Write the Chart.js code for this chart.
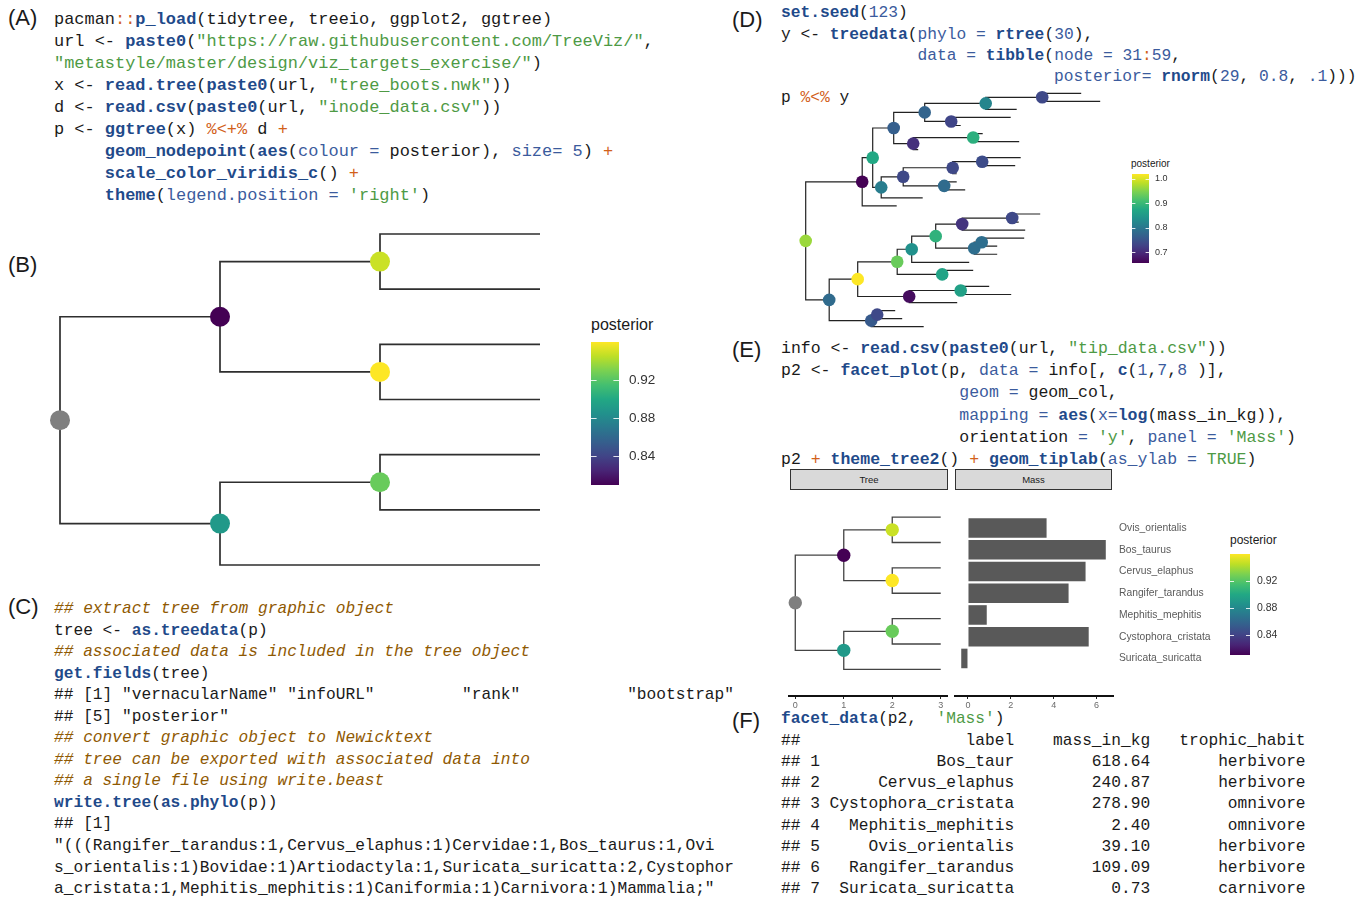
<!DOCTYPE html>
<html>
<head>
<meta charset="utf-8">
<script src="https://cdn.jsdelivr.net/npm/chart.js@4.4.0/dist/chart.umd.min.js"></script>
<style>
  html, body { margin:0; padding:0; background:#fff; }
  #page { position:relative; width:1367px; height:898px; overflow:hidden; background:#fff; }
  pre.code { position:absolute; margin:0; font-family:'Liberation Mono', 'DejaVu Sans Mono', monospace; font-size:16px; color:#1a1a1a; white-space:pre; }
  .f { color:#1f4a8a; font-weight:bold; }
  .a { color:#3b5b9d; }
  .n { color:#3b5b9d; }
  .s { color:#4e9a45; }
  .o { color:#d2601a; }
  .c { color:#8f5902; font-style:italic; }
  .tag { position:absolute; font-family:'Liberation Sans', Arial, sans-serif; font-size:22px; line-height:22px; color:#1a1a1a; }
  .lab { position:absolute; font-family:'Liberation Sans', Arial, sans-serif; color:#1a1a1a; white-space:nowrap; }
  .strip { position:absolute; background:#d9d9d9; border:1px solid #333; box-sizing:border-box; font-family:'Liberation Sans', Arial, sans-serif; font-size:9.5px; line-height:19px; color:#1a1a1a; text-align:center; }
  canvas { position:absolute; }
</style>
</head>
<body>
<div id="page">

<div class="tag" style="left:8px;top:7px">(A)</div>
<div class="tag" style="left:8px;top:254px">(B)</div>
<div class="tag" style="left:8px;top:596px">(C)</div>
<div class="tag" style="left:732px;top:9px">(D)</div>
<div class="tag" style="left:732px;top:339px">(E)</div>
<div class="tag" style="left:732px;top:710px">(F)</div>

<pre class="code" style="left:54px;top:8.5px;line-height:22.1px;font-size:16.95px">
pacman<span class="o">::</span><span class="f">p_load</span>(tidytree, treeio, ggplot2, ggtree)
url &lt;- <span class="f">paste0</span>(<span class="s">"https://raw.githubusercontent.com/TreeViz/"</span>,
<span class="s">"metastyle/master/design/viz_targets_exercise/"</span>)
x &lt;- <span class="f">read.tree</span>(<span class="f">paste0</span>(url, <span class="s">"tree_boots.nwk"</span>))
d &lt;- <span class="f">read.csv</span>(<span class="f">paste0</span>(url, <span class="s">"inode_data.csv"</span>))
p &lt;- <span class="f">ggtree</span>(x) <span class="o">%&lt;+%</span> d <span class="o">+</span>
     <span class="f">geom_nodepoint</span>(<span class="f">aes</span>(<span class="a">colour</span> <span class="a">=</span> posterior), <span class="a">size</span><span class="a">=</span> <span class="n">5</span>) <span class="o">+</span>
     <span class="f">scale_color_viridis_c</span>() <span class="o">+</span>
     <span class="f">theme</span>(<span class="a">legend.position</span> <span class="a">=</span> <span class="s">'right'</span>)</pre>

<pre class="code" style="left:54px;top:599px;line-height:21.54px;font-size:16.2px">
<span class="c">## extract tree from graphic object</span>
tree &lt;- <span class="f">as.treedata</span>(p)
<span class="c">## associated data is included in the tree object</span>
<span class="f">get.fields</span>(tree)
## [1] "vernacularName" "infoURL"         "rank"           "bootstrap"
## [5] "posterior"
<span class="c">## convert graphic object to Newicktext</span>
<span class="c">## tree can be exported with associated data into</span>
<span class="c">## a single file using write.beast</span>
<span class="f">write.tree</span>(<span class="f">as.phylo</span>(p))
## [1]
"(((Rangifer_tarandus:1,Cervus_elaphus:1)Cervidae:1,Bos_taurus:1,Ovi
s_orientalis:1)Bovidae:1)Artiodactyla:1,Suricata_suricatta:2,Cystophor
a_cristata:1,Mephitis_mephitis:1)Caniformia:1)Carnivora:1)Mammalia;"</pre>

<pre class="code" style="left:781px;top:2.4px;line-height:21.2px;font-size:16.25px">
<span class="f">set.seed</span>(<span class="n">123</span>)
y &lt;- <span class="f">treedata</span>(<span class="a">phylo</span> <span class="a">=</span> <span class="f">rtree</span>(<span class="n">30</span>),
              <span class="a">data</span> <span class="a">=</span> <span class="f">tibble</span>(<span class="a">node</span> <span class="a">=</span> <span class="n">31</span><span class="o">:</span><span class="n">59</span>,
                            <span class="a">posterior</span><span class="a">=</span> <span class="f">rnorm</span>(<span class="n">29</span>, <span class="n">0.8</span>, <span class="n">.1</span>)))
p <span class="o">%&lt;%</span> y</pre>

<pre class="code" style="left:781px;top:338px;line-height:22.2px;font-size:16.5px">
info &lt;- <span class="f">read.csv</span>(<span class="f">paste0</span>(url, <span class="s">"tip_data.csv"</span>))
p2 &lt;- <span class="f">facet_plot</span>(p, <span class="a">data</span> <span class="a">=</span> info[, <span class="f">c</span>(<span class="n">1</span>,<span class="n">7</span>,<span class="n">8</span> )],
                  <span class="a">geom</span> <span class="a">=</span> geom_col,
                  <span class="a">mapping</span> <span class="a">=</span> <span class="f">aes</span>(<span class="a">x</span><span class="a">=</span><span class="f">log</span>(mass_in_kg)),
                  orientation <span class="a">=</span> <span class="s">'y'</span>, <span class="a">panel</span> <span class="a">=</span> <span class="s">'Mass'</span>)
p2 <span class="o">+</span> <span class="f">theme_tree2</span>() <span class="o">+</span> <span class="f">geom_tiplab</span>(<span class="a">as_ylab</span> <span class="a">=</span> <span class="s">TRUE</span>)</pre>

<pre class="code" id="codeF" style="left:781px;top:709.4px;line-height:21.25px;font-size:16.2px"></pre>

<div class="lab" style="left:591px;top:316px;font-size:16px;line-height:18px">posterior</div>
<div class="lab" style="left:1131px;top:158px;font-size:10px;line-height:12px">posterior</div>
<div class="lab" style="left:1230px;top:533px;font-size:12px;line-height:14px">posterior</div>

<div class="strip" style="left:790px;top:469px;width:158px;height:21px">Tree</div>
<div class="strip" style="left:955px;top:469px;width:157px;height:21px">Mass</div>

<canvas id="treeB" width="520" height="370" style="left:40px;top:215px"></canvas>
<canvas id="barB" width="78" height="143" style="left:591px;top:342px"></canvas>
<canvas id="treeD" width="335" height="255" style="left:780px;top:80px"></canvas>
<canvas id="barD" width="47" height="89" style="left:1132px;top:174px"></canvas>
<canvas id="treeE" width="160" height="230" style="left:788px;top:490px"></canvas>
<canvas id="massE" width="271" height="230" style="left:954px;top:490px"></canvas>
<canvas id="barE" width="55" height="101" style="left:1230px;top:554px"></canvas>
</div>

<script>
// mammal tree (panels B, C, E): nodes 0-6 are tips, 7 is the root
const treeNodes = ['Ovis_orientalis', 'Bos_taurus', 'Cervus_elaphus', 'Rangifer_tarandus',
    'Mephitis_mephitis', 'Cystophora_cristata', 'Suricata_suricatta',
    'Mammalia', 'Artiodactyla', 'Bovidae', 'Cervidae', 'Carnivora', 'Caniformia'];
const treeParent = [9, 9, 10, 10, 12, 12, 11, -1, 7, 8, 8, 7, 11];
const treeBranch = [1, 1, 1, 1, 1, 1, 2, 0, 1, 1, 1, 1, 1];
const treeTipY = [7, 6, 5, 4, 3, 2, 1];
const treePosterior = [null, null, null, null, null, null, null, null, 0.81, 0.948, 0.96, 0.89, 0.925];
const massKg = [39.10, 618.64, 240.87, 109.09, 2.40, 278.90, 0.73];
const postTicks = [0.84, 0.88, 0.92];
const eTreeTicks = [0, 1, 2, 3];
const eMassTicks = [0, 2, 4, 6];

// random tree (panel D): 30 tips (0-29, top to bottom), internal nodes 30-58, root = 30
const dTipCount = 30;
const dParent = [36, 36, 35, 37, 37, 39, 39, 38, 43, 43, 42, 44, 44, 40, 31,
    51, 51, 50, 53, 53, 52, 48, 54, 54, 56, 56, 55, 58, 58, 57,
    -1, 30, 31, 32, 33, 34, 35, 34, 33, 38, 32, 40, 41, 42, 41,
    30, 45, 46, 47, 48, 49, 50, 49, 52, 47, 46, 55, 45, 57];
const dX = [5.51, 5.89, 4.22, 4.10, 3.10, 3.54, 4.27, 2.25, 4.30, 4.19, 3.02, 3.02, 3.19, 2.34, 1.82,
    4.69, 4.26, 4.39, 4.37, 3.83, 3.83, 3.27, 3.35, 2.82, 3.67, 4.11, 3.03, 1.79, 1.93, 2.36,
    0, 1.13, 1.34, 1.76, 2.38, 3.60, 4.73, 2.91, 2.15, 3.35, 1.51, 1.95, 2.94, 3.53, 2.77,
    0.47, 1.04, 1.83, 2.12, 2.60, 3.13, 4.13, 3.37, 3.52, 2.73, 2.07, 3.10, 1.31, 1.43];
const dPosterior = [0.965, 0.656, 0.874, 0.765, 0.772, 0.820, 0.736, 0.732, 0.707, 0.885,
    0.809, 0.736, 0.736, 0.740, 0.783, 0.783, 1.020, 0.936, 0.838, 0.889,
    0.711, 0.736, 0.787, 0.787, 0.867, 0.667, 0.863, 0.758, 0.736];
const dTicks = [0.7, 0.8, 0.9, 1.0];

// facet_data table (panel F)
const tblLabel = ['Bos_taur', 'Cervus_elaphus', 'Cystophora_cristata', 'Mephitis_mephitis',
    'Ovis_orientalis', 'Rangifer_tarandus', 'Suricata_suricatta'];
const tblMass = ['618.64', '240.87', '278.90', '2.40', '39.10', '109.09', '0.73'];
const tblHabit = ['herbivore', 'herbivore', 'omnivore', 'omnivore', 'herbivore', 'herbivore', 'carnivore'];

const viridisStops = ['#440154', '#482475', '#414487', '#355f8d', '#2a788e', '#21918c',
    '#22a884', '#44bf70', '#7ad151', '#bddf26', '#fde725'];

Chart.defaults.font.family = "'Liberation Sans', Arial, sans-serif";

function init(){
    writeTable();

    // panel B
    let bX = layoutX(treeParent, treeBranch);
    let bY = layoutY(treeParent, treeTipY);
    let bPost = treePosterior;
    drawTree('treeB', bX, bY, treeParent, bPost, treeTipY.length,
        {line: '#2e2e2e', lw: 1.7, r: 10}, {min: -0.125, max: 3.125}, {min: 0.6375, max: 7.344}, null);
    colorbar('barB', range(bPost), postTicks, {axisW: 50, pad: 10, font: 13.5, dec: 2});

    // panel D
    let dTipY = dParent.slice(0, dTipCount).map((p, i) => dTipCount - i);
    let dY = layoutY(dParent, dTipY);
    let dPost = dParent.map((p, i) => i < dTipCount ? null : dPosterior[i - dTipCount]);
    drawTree('treeD', dX, dY, dParent, dPost, dTipCount,
        {line: '#222', lw: 1.2, r: 6.3}, {min: -0.514, max: 6.186}, {min: -0.031, max: 31.65}, null);
    colorbar('barD', range(dPost), dTicks, {axisW: 30, pad: 6, font: 9, dec: 1});

    // panel E
    drawTree('treeE', bX, bY, treeParent, bPost, treeTipY.length,
        {line: '#444', lw: 1.3, r: 6.7}, {min: -0.15, max: 3.15}, {min: -0.05, max: 8.07}, eTreeTicks);
    drawMass();
    colorbar('barE', range(bPost), postTicks, {axisW: 35, pad: 7, font: 10.5, dec: 2});
}

function writeTable(){
    let lines = ['<span class="f">facet_data</span>(p2,  <span class="s">\'Mass\'</span>)'];
    lines.push('##'.padEnd(4) + 'label'.padStart(20) + 'mass_in_kg'.padStart(14) + 'trophic_habit'.padStart(16));
    tblLabel.forEach((l, i) => {
        lines.push(('## ' + (i + 1)).padEnd(4) + l.padStart(20) + tblMass[i].padStart(14) + tblHabit[i].padStart(16));
    });
    document.getElementById('codeF').innerHTML = lines.join('\n');
}

function range(post){
    let v = post.filter(p => p != null);
    return [Math.min(...v), Math.max(...v)];
}

function viridis(t){
    t = Math.min(1, Math.max(0, t)) * (viridisStops.length - 1);
    let i = Math.min(Math.floor(t), viridisStops.length - 2);
    let f = t - i;
    let a = hexRgb(viridisStops[i]), b = hexRgb(viridisStops[i + 1]);
    let c = a.map((v, k) => Math.round(v + (b[k] - v) * f));
    return `rgb(${c[0]},${c[1]},${c[2]})`;
}
function hexRgb(h){
    return [1, 3, 5].map(i => parseInt(h.substr(i, 2), 16));
}

function layoutX(parent, branch){
    let x = [];
    let f = i => x[i] !== undefined ? x[i] : (x[i] = parent[i] < 0 ? 0 : f(parent[i]) + branch[i]);
    parent.forEach((p, i) => f(i));
    return x;
}
// tips keep their row, internal nodes sit at the mean of their children (ggtree layout)
function layoutY(parent, tipY){
    let y = [];
    let f = i => {
        if (y[i] !== undefined) return y[i];
        if (i < tipY.length) return y[i] = tipY[i];
        let ch = [];
        parent.forEach((p, j) => { if (p === i) ch.push(j); });
        return y[i] = ch.reduce((s, c) => s + f(c), 0) / ch.length;
    };
    parent.forEach((p, i) => f(i));
    return y;
}

function drawTree(id, X, Y, parent, post, nTips, style, xr, yr, ticks){
    let [lo, hi] = range(post);
    let sets = [];
    parent.forEach((p, i) => {
        if (p < 0) return;
        sets.push({
            data: [{x: X[p], y: Y[p]}, {x: X[p], y: Y[i]}, {x: X[i], y: Y[i]}],
            showLine: true, pointRadius: 0, borderColor: style.line, borderWidth: style.lw,
            borderCapStyle: 'butt', borderJoinStyle: 'miter', order: 1, clip: false
        });
    });
    let inner = parent.map((p, i) => i).filter(i => i >= nTips);
    sets.push({
        data: inner.map(i => ({x: X[i], y: Y[i]})),
        showLine: false, pointRadius: style.r, pointBorderWidth: 0,
        pointBackgroundColor: inner.map(i => post[i] == null ? '#7f7f7f' : viridis((post[i] - lo) / (hi - lo))),
        order: 0, clip: false
    });
    let xScale = ticks ? bottomAxis(xr.min, xr.max, ticks, 24) : {type: 'linear', min: xr.min, max: xr.max, display: false};
    new Chart(document.getElementById(id), {
        type: 'scatter',
        data: {datasets: sets},
        options: {
            responsive: false, animation: false,
            layout: {padding: 0, autoPadding: false},
            plugins: {legend: {display: false}, tooltip: {enabled: false}},
            scales: {
                x: xScale,
                y: {type: 'linear', min: yr.min, max: yr.max, display: false}
            }
        }
    });
}

function bottomAxis(min, max, ticks, h){
    return {
        type: 'linear', min: min, max: max, position: 'bottom',
        grid: {display: true, drawOnChartArea: false, drawTicks: true, tickLength: 3, color: '#222', lineWidth: 1},
        border: {display: true, color: '#111', width: 2},
        ticks: {color: '#6b6b6b', font: {size: 9}, padding: 1, maxRotation: 0, autoSkip: false},
        afterBuildTicks: s => { s.ticks = ticks.map(v => ({value: v})); },
        afterFit: s => { s.height = h; s.paddingLeft = 0; s.paddingRight = 0; }
    };
}

function drawMass(){
    new Chart(document.getElementById('massE'), {
        type: 'bar',
        data: {
            datasets: [{
                data: massKg.map((m, i) => ({x: Math.log(m), y: treeTipY[i]})),
                backgroundColor: '#595959', borderWidth: 0,
                barPercentage: 0.9, categoryPercentage: 1
            }]
        },
        options: {
            indexAxis: 'y',
            responsive: false, animation: false,
            layout: {padding: 0, autoPadding: false},
            plugins: {legend: {display: false}, tooltip: {enabled: false}},
            scales: {
                x: bottomAxis(-0.652, 6.764, eMassTicks, 24),
                y: {
                    type: 'linear', position: 'right', min: -0.05, max: 8.07,
                    grid: {display: false, drawTicks: false}, border: {display: false},
                    ticks: {color: '#5a5a5a', font: {size: 10.3}, padding: 6, autoSkip: false,
                        callback: v => treeNodes[treeTipY.indexOf(v)]},
                    afterBuildTicks: s => { s.ticks = treeTipY.map(v => ({value: v})); },
                    afterFit: s => { s.width = 112; s.paddingTop = 0; s.paddingBottom = 0; }
                }
            }
        }
    });
}

// short white marks across the colour bar at each break, like ggplot's guide_colourbar
var barTicks = {
    id: 'barTicks',
    afterDatasetsDraw(chart){
        let ctx = chart.ctx, a = chart.chartArea, s = chart.scales.y;
        let w = (a.right - a.left) / 5;
        ctx.save();
        ctx.strokeStyle = 'rgba(255,255,255,0.85)';
        ctx.lineWidth = 1;
        s.ticks.forEach(t => {
            let y = Math.round(s.getPixelForValue(t.value)) + 0.5;
            ctx.beginPath();
            ctx.moveTo(a.left, y); ctx.lineTo(a.left + w, y);
            ctx.moveTo(a.right - w, y); ctx.lineTo(a.right, y);
            ctx.stroke();
        });
        ctx.restore();
    }
};

function colorbar(id, lim, ticks, o){
    new Chart(document.getElementById(id), {
        type: 'bar',
        data: {
            labels: [''],
            datasets: [{
                data: [lim],
                barPercentage: 1, categoryPercentage: 1, borderWidth: 0,
                backgroundColor: (c) => {
                    let a = c.chart.chartArea;
                    if (!a) return '#21918c';
                    let g = c.chart.ctx.createLinearGradient(0, a.bottom, 0, a.top);
                    viridisStops.forEach((col, i) => g.addColorStop(i / (viridisStops.length - 1), col));
                    return g;
                }
            }]
        },
        options: {
            responsive: false, animation: false,
            layout: {padding: 0, autoPadding: false},
            plugins: {legend: {display: false}, tooltip: {enabled: false}},
            scales: {
                x: {display: false},
                y: {
                    position: 'right', min: lim[0], max: lim[1],
                    grid: {display: false, drawTicks: false}, border: {display: false},
                    ticks: {padding: o.pad, color: '#333', font: {size: o.font}, autoSkip: false,
                        callback: v => v.toFixed(o.dec)},
                    afterBuildTicks: s => { s.ticks = ticks.map(v => ({value: v})); },
                    afterFit: s => { s.width = o.axisW; s.paddingTop = 0; s.paddingBottom = 0; }
                }
            }
        },
        plugins: [barTicks]
    });
}

document.addEventListener("DOMContentLoaded", init);
</script>
</body>
</html>
